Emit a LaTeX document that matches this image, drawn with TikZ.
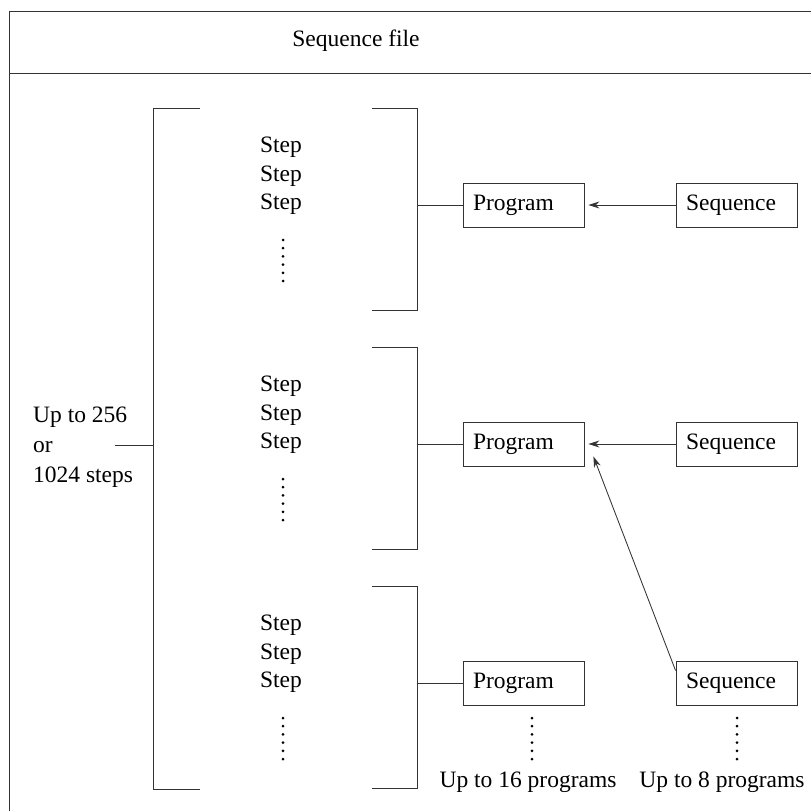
\documentclass[tikz,border=0pt]{standalone}
\usepackage{fontspec}
\setmainfont{Liberation Serif}
\usetikzlibrary{arrows.meta,calc}
\begin{document}
\begin{tikzpicture}[x=1pt,y=-1pt,
  every node/.style={font=\fontsize{23.5}{30}\selectfont, inner sep=0pt},
  ln/.style={line width=0.85pt, draw=black!80},
  box/.style={ln, rectangle, minimum height=44pt, text width=101pt, inner xsep=10pt, align=left},
  arr/.style={ln, -{Stealth[length=11pt,width=7pt]}}
]
\useasboundingbox (0,0) rectangle (811,811);
\fill[white] (0,0) rectangle (811,811);
% frame
\coordinate (ftl) at (9,11);
\coordinate (ftr) at (811,11);
\coordinate (fbl) at (9,811);
\coordinate (hl) at (9,73);
\coordinate (hr) at (811,73);
\draw[ln] (fbl) -- (ftl) -- (ftr);
\draw[ln] (hl) -- (hr);
\node (title) at (356,41) {Sequence file};
% big left bracket
\draw[ln] (200,108) -- (153,108) -- (153,789) -- (200,789);
\coordinate (lt) at (115,445);
\coordinate (bigbr) at (153,445);
\draw[ln] (lt) -- (bigbr);
\node[anchor=west, align=left] (lbl) at (33,447) {Up to 256\\or\\1024 steps};
% sections
\foreach \i/\o in {1/0,2/239,3/478}{
  \draw[ln] (372,108+\o) -- (417,108+\o) -- (417,310+\o) -- (372,310+\o);
  \node (st\i a) at (281,147+\o) {Step};
  \node (st\i b) at (281,176+\o) {Step};
  \node (st\i c) at (281,204.5+\o) {Step};
  \foreach \k in {0,...,5} \fill (283,240+\o+\k*8.2) circle (1.5);
  \node[box] (p\i) at (523.5,205.5+\o) {Program};
  \node[box] (s\i) at (736.5,205+\o) {Sequence};
  \coordinate (b\i) at (417,205.5+\o);
  \draw[ln] (b\i) -- (p\i.west);
}
\draw[arr, shorten >=4pt] (s1.west) -- (s1.west -| p1.east);
\draw[arr, shorten >=4pt] (s2.west) -- (s2.west -| p2.east);
\draw[arr] ($(s3.north west)+(0,10)$) -- ($(p2.south east)+(9,-10.5)$);
% bottom dots and labels
\foreach \k in {0,...,5} {
  \fill (532,718+\k*8.2) circle (1.5);
  \fill (737,718+\k*8.2) circle (1.5);
}
\node (l16) at (528,782) {Up to 16 programs};
\node (l8) at (722,782) {Up to 8 programs};
\end{tikzpicture}
\end{document}
